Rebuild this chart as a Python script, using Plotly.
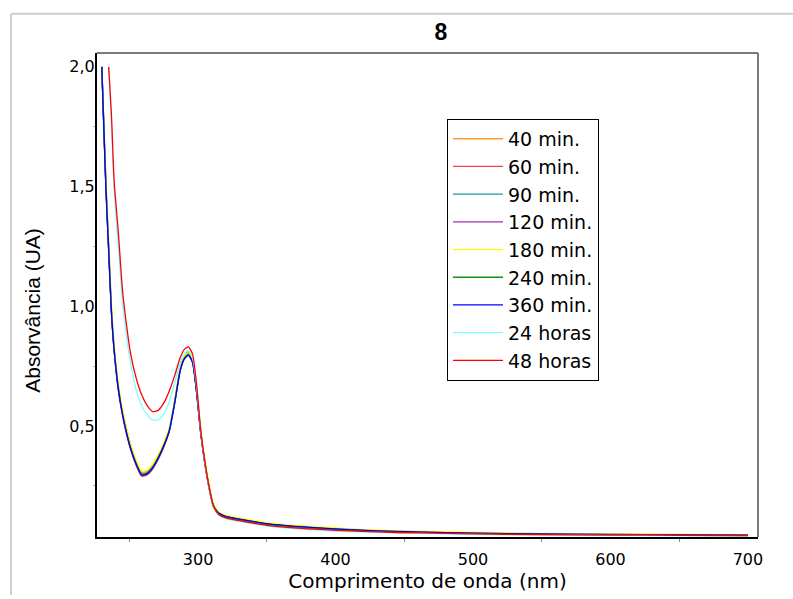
import plotly.graph_objects as go

# Wavelength grid (nm) shared by all spectra
wavelength = [230, 231.5, 233, 235, 237, 239, 242, 245, 248, 251, 255, 259, 263, 267,
              271, 275, 279, 283, 287, 290, 293, 296, 299, 302, 305, 308, 311, 315,
              320, 330, 350, 375, 400, 430, 460, 500, 550, 600, 650, 700]

abs_40min = [2.00, 1.76, 1.52, 1.26, 1.00, 0.83, 0.67, 0.565, 0.485, 0.42, 0.352, 0.307, 0.31, 0.335,
             0.375, 0.425, 0.485, 0.605, 0.74, 0.79, 0.81, 0.775, 0.65, 0.475, 0.35, 0.25, 0.175, 0.138,
             0.123, 0.112, 0.093, 0.08, 0.071, 0.063, 0.058, 0.053, 0.05, 0.048, 0.046, 0.045]
abs_60min = [2.00, 1.74, 1.49, 1.23, 0.97, 0.81, 0.65, 0.545, 0.465, 0.40, 0.335, 0.29, 0.295, 0.32,
             0.36, 0.41, 0.475, 0.595, 0.73, 0.78, 0.80, 0.765, 0.635, 0.465, 0.34, 0.24, 0.165, 0.13,
             0.116, 0.105, 0.086, 0.073, 0.065, 0.057, 0.053, 0.049, 0.046, 0.044, 0.043, 0.042]
abs_90min = [2.00, 1.75, 1.50, 1.24, 0.98, 0.82, 0.66, 0.555, 0.475, 0.41, 0.345, 0.30, 0.305, 0.33,
             0.37, 0.42, 0.48, 0.60, 0.735, 0.785, 0.805, 0.77, 0.64, 0.47, 0.345, 0.245, 0.17, 0.135,
             0.12, 0.11, 0.09, 0.077, 0.069, 0.06, 0.056, 0.051, 0.048, 0.046, 0.045, 0.044]
abs_120min = [2.00, 1.75, 1.50, 1.24, 0.98, 0.815, 0.655, 0.55, 0.47, 0.405, 0.34, 0.295, 0.30, 0.325,
              0.365, 0.415, 0.48, 0.60, 0.735, 0.785, 0.80, 0.77, 0.64, 0.47, 0.345, 0.245, 0.17, 0.136,
              0.122, 0.111, 0.092, 0.079, 0.07, 0.062, 0.057, 0.052, 0.049, 0.047, 0.045, 0.044]
abs_180min = [2.00, 1.78, 1.53, 1.27, 1.01, 0.84, 0.675, 0.57, 0.49, 0.425, 0.357, 0.312, 0.315, 0.34,
              0.38, 0.43, 0.49, 0.605, 0.74, 0.79, 0.805, 0.78, 0.66, 0.49, 0.36, 0.26, 0.18, 0.142,
              0.127, 0.116, 0.096, 0.083, 0.074, 0.065, 0.06, 0.055, 0.051, 0.049, 0.047, 0.046]
abs_240min = [2.00, 1.75, 1.50, 1.24, 0.98, 0.82, 0.66, 0.553, 0.473, 0.408, 0.343, 0.298, 0.303, 0.328,
              0.368, 0.418, 0.48, 0.598, 0.732, 0.782, 0.80, 0.768, 0.64, 0.47, 0.345, 0.245, 0.17, 0.135,
              0.121, 0.11, 0.09, 0.078, 0.069, 0.061, 0.056, 0.052, 0.048, 0.046, 0.045, 0.044]
abs_360min = [2.00, 1.74, 1.49, 1.23, 0.975, 0.815, 0.655, 0.55, 0.47, 0.404, 0.34, 0.295, 0.30, 0.325,
              0.365, 0.415, 0.478, 0.595, 0.73, 0.78, 0.795, 0.765, 0.64, 0.47, 0.345, 0.245, 0.17, 0.136,
              0.122, 0.111, 0.092, 0.079, 0.07, 0.062, 0.057, 0.052, 0.049, 0.047, 0.045, 0.044]
abs_24h = [None, None, None, 2.00, 1.76, 1.48, 1.25, 1.02, 0.87, 0.76, 0.65, 0.585, 0.545, 0.525,
           0.525, 0.55, 0.60, 0.68, 0.765, 0.805, 0.815, 0.785, 0.66, 0.475, 0.345, 0.24, 0.165, 0.128,
           0.113, 0.101, 0.082, 0.069, 0.061, 0.055, 0.051, 0.047, 0.044, 0.043, 0.042, 0.041]
abs_48h = [None, None, None, 2.00, 1.80, 1.52, 1.31, 1.07, 0.92, 0.80, 0.70, 0.63, 0.585, 0.56,
           0.565, 0.595, 0.645, 0.71, 0.785, 0.82, 0.83, 0.80, 0.67, 0.48, 0.35, 0.245, 0.168, 0.13,
           0.116, 0.104, 0.085, 0.072, 0.064, 0.057, 0.053, 0.049, 0.046, 0.044, 0.043, 0.042]

series_names = ["40 min.", "60 min.", "90 min.", "120 min.", "180 min.",
                "240 min.", "360 min.", "24 horas", "48 horas"]
series_values = [abs_40min, abs_60min, abs_90min, abs_120min, abs_180min,
                 abs_240min, abs_360min, abs_24h, abs_48h]
series_colors = ["#FF9A30", "#FF4040", "#1A9E9E", "#A030B0", "#FFFF00",
                 "#109010", "#0000FF", "#80FFFF", "#FF0000"]

FONT = "Arial, Liberation Sans, sans-serif"
WIDE = "DejaVu Sans, Arial, sans-serif"

fig = go.Figure()
for name, vals, col in zip(series_names, series_values, series_colors):
    fig.add_trace(go.Scatter(
        x=wavelength, y=vals, name=name, mode="lines",
        line=dict(color=col, width=1.3, shape="spline", smoothing=0.6),
    ))

# outer light frame and grey top/right plot border
frame = "#cfcfcf"
shapes = [
    dict(type="line", xref="paper", yref="paper", x0=-0.1301, x1=1.06, y0=1.0813, y1=1.0813,
         line=dict(color=frame, width=2)),
    dict(type="line", xref="paper", yref="paper", x0=-0.1301, x1=-0.1301, y0=-0.12, y1=1.0813,
         line=dict(color=frame, width=2)),
    dict(type="line", xref="paper", yref="paper", x0=0, x1=1, y0=1, y1=1,
         line=dict(color="#7a7a7a", width=2)),
    dict(type="line", xref="paper", yref="paper", x0=1, x1=1, y0=0, y1=1,
         line=dict(color="#7a7a7a", width=2)),
]

# y-axis title placed as a rotated annotation
y_title = dict(text="Absorvância (UA)", xref="paper", yref="paper",
               x=-0.0968, y=0.4675, xanchor="center", yanchor="middle",
               textangle=-90, showarrow=False,
               font=dict(size=21, family=FONT, color="black"))

fig.update_layout(
    width=793, height=599,
    margin=dict(l=97, r=35, t=53, b=54),
    paper_bgcolor="white", plot_bgcolor="white",
    separators=",.",
    font=dict(family=FONT, color="black"),
    title=dict(text="<b>8</b>", xref="container", x=441 / 793, xanchor="center",
               yref="container", y=1 - 32 / 599, yanchor="middle",
               font=dict(size=23, family=FONT, color="black")),
    shapes=shapes,
    annotations=[y_title],
    showlegend=True,
    legend=dict(x=0.5295, y=0.8638, xanchor="left", yanchor="top",
                bgcolor="white", bordercolor="black", borderwidth=1,
                font=dict(size=19, family=WIDE, color="black"),
                itemwidth=50, tracegroupgap=0),
)

fig.update_xaxes(
    range=[226.5, 707.3], tickvals=[300, 400, 500, 600, 700],
    showline=True, linecolor="black", linewidth=2, showgrid=False, zeroline=False,
    ticks="", tickfont=dict(size=16, family=WIDE), ticklabelstandoff=7,
    minor=dict(tickvals=[250, 350, 450, 550, 650], ticks="outside", ticklen=3,
               tickcolor="#888888"),
    title=dict(text="Comprimento de onda (nm)", font=dict(size=20, family=WIDE), standoff=4),
)
fig.update_yaxes(
    range=[0.036, 2.058], tickvals=[0.5, 1.0, 1.5, 2.0], tickformat=".1f",
    showline=True, linecolor="black", linewidth=2, showgrid=False, zeroline=False,
    ticks="", tickfont=dict(size=16, family=WIDE), ticklabelstandoff=-3,
    minor=dict(tickvals=[0.25, 0.75, 1.25, 1.75], ticks="outside", ticklen=2,
               tickcolor="#aaaaaa"),
)

fig.write_html("out.html")
